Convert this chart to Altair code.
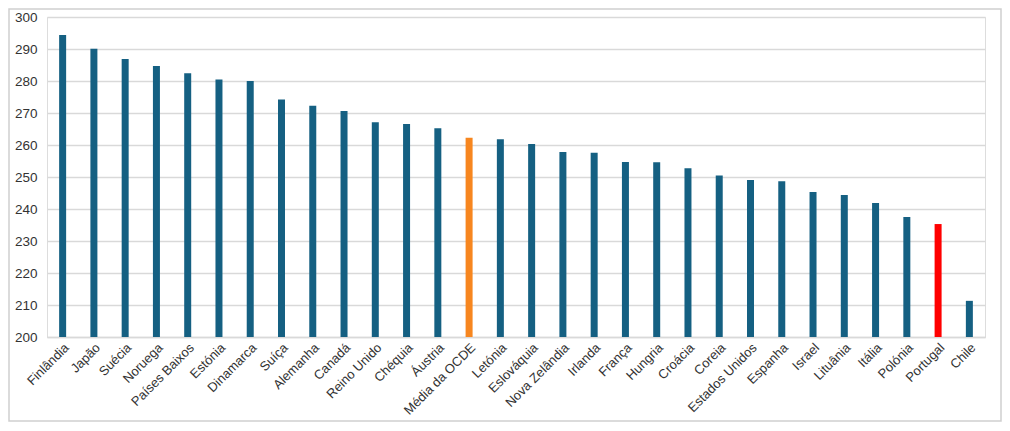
import altair as alt
import pandas as pd

countries = ["Finlândia", "Japão", "Suécia", "Noruega", "Países Baixos", "Estónia",
             "Dinamarca", "Suíça", "Alemanha", "Canadá", "Reino Unido", "Chéquia",
             "Áustria", "Média da OCDE", "Letónia", "Eslováquia", "Nova Zelândia",
             "Irlanda", "França", "Hungria", "Croácia", "Coreia", "Estados Unidos",
             "Espanha", "Israel", "Lituânia", "Itália", "Polónia", "Portugal", "Chile"]
values = [294.4, 290.1, 286.9, 284.7, 282.4, 280.5,
          280.0, 274.2, 272.3, 270.6, 267.1, 266.6,
          265.2, 262.3, 261.8, 260.3, 257.8,
          257.6, 254.7, 254.6, 252.7, 250.5, 249.1,
          248.7, 245.3, 244.4, 241.9, 237.5, 235.3, 211.3]
groups = ["país"] * 13 + ["média"] + ["país"] * 14 + ["portugal"] + ["país"]
y_ticks = list(range(200, 301, 10))

df = pd.DataFrame({"pais": countries, "valor": values, "grupo": groups})

W, H = 938, 320

bars = alt.Chart(df).mark_bar(size=7).encode(
    x=alt.X("pais:N", sort=countries, title=None,
            scale=alt.Scale(paddingInner=0.5, paddingOuter=0.25),
            axis=alt.Axis(labelAngle=-45, labelFontSize=13, labelColor="#333333",
                          labelFont="Liberation Sans", ticks=False, domain=True,
                          domainColor="#D9D9D9", domainWidth=1.5, labelPadding=4,
                          labelOverlap=False, labelLimit=200, grid=False)),
    y=alt.Y("valor:Q", title=None,
            scale=alt.Scale(domain=[200, 300], zero=False, nice=False),
            axis=alt.Axis(values=y_ticks, labelFontSize=13.5, labelColor="#333333",
                          labelFont="Liberation Sans", ticks=False, domain=False,
                          gridColor="#D9D9D9", gridWidth=1.3, labelPadding=10)),
    y2=alt.datum(200),
    color=alt.Color("grupo:N", legend=None,
                    scale=alt.Scale(domain=["país", "média", "portugal"],
                                    range=["#156082", "#F7861F", "#FF0000"])),
)

border = alt.Chart(pd.DataFrame({"a": [0]})).mark_rect(
    fill=None, stroke="#D0D0D0", strokeWidth=1.5
).encode(
    x=alt.value(-38), x2=alt.value(W + 16),
    y=alt.value(-8), y2=alt.value(H + 84),
)

chart = alt.layer(bars, border).properties(
    width=W, height=H,
    padding={"left": 39, "top": 9, "right": 17, "bottom": 86},
    autosize=alt.AutoSizeParams(type="none"),
).configure_view(stroke=None).configure(background="white")

chart.save("out.html", embed_options={"renderer": "svg", "actions": False})
